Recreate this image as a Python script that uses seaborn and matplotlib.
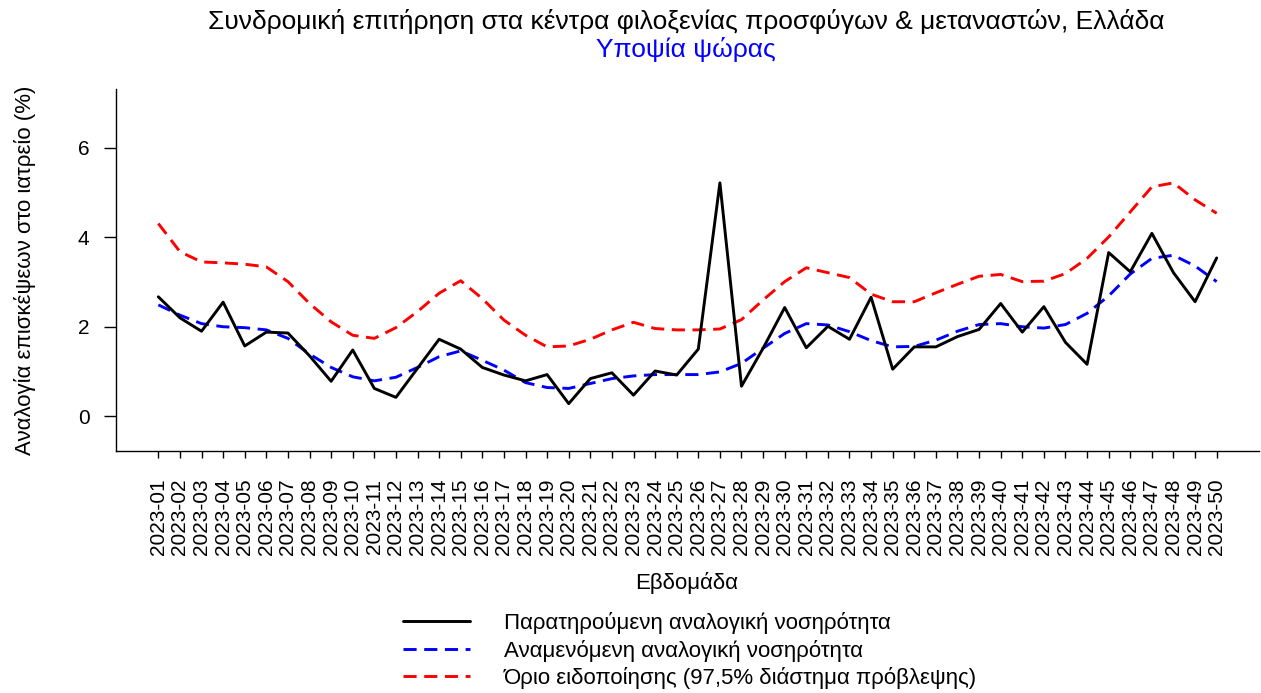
import numpy as np
import pandas as pd
import seaborn as sns
import matplotlib.pyplot as plt
from matplotlib.lines import Line2D

# weekly values
weeks = [f"2023-{i:02d}" for i in range(1, 51)]

observed = [2.67, 2.20, 1.90, 2.55, 1.57, 1.88, 1.86, 1.35, 0.78, 1.48,
            0.62, 0.42, 1.07, 1.72, 1.50, 1.09, 0.92, 0.79, 0.93, 0.28,
            0.84, 0.97, 0.47, 1.01, 0.92, 1.50, 5.22, 0.67, 1.52, 2.43,
            1.53, 2.01, 1.72, 2.66, 1.05, 1.55, 1.55, 1.78, 1.94, 2.52,
            1.88, 2.45, 1.65, 1.16, 3.66, 3.23, 4.09, 3.21, 2.56, 3.54]

expected = [2.49, 2.26, 2.07, 2.00, 1.98, 1.93, 1.74, 1.39, 1.09, 0.88,
            0.79, 0.87, 1.09, 1.33, 1.46, 1.25, 1.03, 0.75, 0.64, 0.62,
            0.73, 0.84, 0.90, 0.93, 0.93, 0.93, 0.99, 1.18, 1.52, 1.85,
            2.07, 2.04, 1.89, 1.69, 1.55, 1.56, 1.70, 1.90, 2.05, 2.07,
            2.00, 1.97, 2.05, 2.30, 2.69, 3.18, 3.53, 3.60, 3.36, 3.01]

threshold = [4.31, 3.68, 3.45, 3.43, 3.40, 3.34, 3.01, 2.52, 2.11, 1.81,
             1.74, 1.98, 2.34, 2.75, 3.03, 2.63, 2.15, 1.81, 1.55, 1.57,
             1.72, 1.93, 2.10, 1.96, 1.93, 1.93, 1.95, 2.16, 2.60, 3.01,
             3.32, 3.21, 3.10, 2.73, 2.56, 2.56, 2.76, 2.95, 3.13, 3.17,
             3.01, 3.02, 3.19, 3.53, 4.01, 4.57, 5.13, 5.22, 4.84, 4.54]

labels = ["Παρατηρούμενη αναλογική νοσηρότητα",
          "Αναμενόμενη αναλογική νοσηρότητα",
          "Όριο ειδοποίησης (97,5% διάστημα πρόβλεψης)"]

df = pd.DataFrame({"idx": np.arange(len(weeks)), "observed": observed,
                   "expected": expected, "threshold": threshold})

sns.set_style("ticks")
plt.rcParams['font.family'] = ['Liberation Sans', 'DejaVu Sans']
plt.rcParams['text.color'] = 'black'

fig = plt.figure(figsize=(12.61, 6.93), dpi=100)
ax = fig.add_axes([116 / 1261, 1 - 451 / 693, (1259 - 116) / 1261, (451 - 89) / 693])

dash = (4.5, 2.6)
sns.lineplot(data=df, x="idx", y="threshold", ax=ax, color="#ff0000", lw=2.1)
sns.lineplot(data=df, x="idx", y="expected", ax=ax, color="#0000ff", lw=2.1)
sns.lineplot(data=df, x="idx", y="observed", ax=ax, color="black", lw=2.1)
ax.lines[0].set_dashes(dash)
ax.lines[1].set_dashes(dash)

ax.set_xlim(-1.96, len(weeks) - 1 + 1.96)
ax.set_ylim(-0.78, 7.32)
ax.set_xticks(df["idx"])
ax.set_xticklabels(weeks, rotation=90)
ax.set_yticks([0, 2, 4, 6])
ax.tick_params(axis="x", length=5, width=1, pad=15, labelsize=15, colors="black")
ax.tick_params(axis="y", length=9, width=1, pad=10, labelsize=15, colors="black")
ax.set_xlabel("")
ax.set_ylabel("")
for s in ["top", "right"]:
    ax.spines[s].set_visible(False)
for s in ["left", "bottom"]:
    ax.spines[s].set_color("black")
    ax.spines[s].set_linewidth(1)

fig.text(686 / 1261, 1 - 22 / 693, "Συνδρομική επιτήρηση στα κέντρα φιλοξενίας προσφύγων & μεταναστών, Ελλάδα",
         ha="center", va="center", fontsize=19, color="black")
fig.text(686 / 1261, 1 - 50 / 693, "Υποψία ψώρας", ha="center", va="center",
         fontsize=19, color="#0000ff")
fig.text(687 / 1261, 1 - 583 / 693, "Εβδομάδα", ha="center", va="center",
         fontsize=16, color="black")
fig.text(25 / 1261, 1 - 270 / 693, "Αναλογία επισκέψεων στο ιατρείο (%)", ha="center",
         va="center", rotation=90, fontsize=16, color="black")

handles = [Line2D([], [], color="black", lw=2.1),
           Line2D([], [], color="#0000ff", lw=2.1, dashes=dash),
           Line2D([], [], color="#ff0000", lw=2.1, dashes=dash)]
leg = fig.legend(handles, labels, loc="upper left", bbox_to_anchor=(403 / 1261, 1 - 612 / 693),
                 frameon=False, fontsize=16, handlelength=3.0, handletextpad=1.55,
                 labelspacing=0.25, borderpad=0, borderaxespad=0)
for t in leg.get_texts():
    t.set_color("black")

fig.savefig("out.png", dpi=100)
